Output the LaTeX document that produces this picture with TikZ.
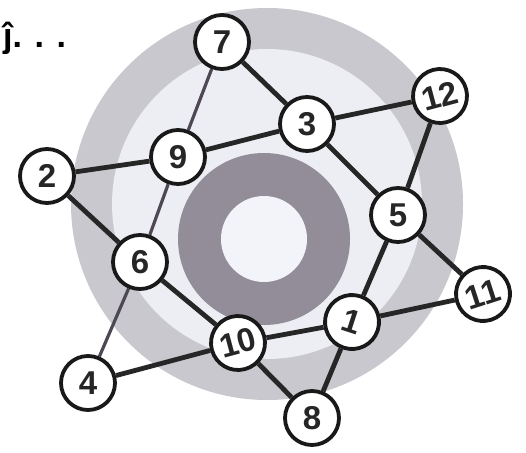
\documentclass[tikz,border=0pt]{standalone}
\usepackage{fontspec}
\setmainfont{Liberation Sans}
\definecolor{ringlight}{RGB}{200,200,206}
\definecolor{inside}{RGB}{236,238,243}
\definecolor{ringdark}{RGB}{146,141,153}
\definecolor{core}{RGB}{242,244,249}
\definecolor{thinline}{RGB}{78,72,84}
\pgfdeclarelayer{bg}
\pgfdeclarelayer{edgelayer}
\pgfsetlayers{bg,edgelayer,main}
\begin{document}
\begin{tikzpicture}[x=1pt,y=-1pt,
  numnode/.style={circle,draw=black!90,line width=3.8pt,fill=white,minimum size=54pt,inner sep=0pt,font=\fontsize{33}{33}\selectfont\bfseries,text=black!85},
  thickedge/.style={line width=4.8pt,draw=black!85},
  thinedge/.style={line width=3.2pt,draw=thinline}]
\useasboundingbox (0,0) rectangle (526,452);
\begin{pgfonlayer}{bg}
\fill[white] (0,0) rectangle (526,452);
\fill[ringlight] (267,204) circle (196);
\fill[inside] (267,204) circle (155);
\fill[ringdark] (264,239) circle (86);
\fill[core] (264,239) circle (43);
\end{pgfonlayer}
% title glyph
\node[anchor=west,font=\fontsize{34}{34}\selectfont\bfseries,inner sep=0pt] (ttl) at (3,38) {ĵ. . .};
% nodes
\node[numnode] (n7) at (222,42) {7};
\node[numnode] (n3) at (307,124) {3};
\node[numnode,rotate=15] (n12) at (440,96) {12};
\node[numnode] (n9) at (178,157) {9};
\node[numnode] (n2) at (47,176) {2};
\node[numnode] (n6) at (140,262) {6};
\node[numnode] (n5) at (398,215) {5};
\node[numnode,rotate=18] (n11) at (483,294) {11};
\node[numnode,rotate=-18] (n1) at (352,322) {1};
\node[numnode,rotate=15] (n10) at (238,343) {10};
\node[numnode] (n8) at (312,418) {8};
\node[numnode] (n4) at (88,383) {4};
% edges
\begin{pgfonlayer}{edgelayer}
\draw[thickedge] (n7) -- (n3);
\draw[thickedge] (n3) -- (n12);
\draw[thickedge] (n3) -- (n9);
\draw[thickedge] (n3) -- (n5);
\draw[thickedge] (n12) -- (n5);
\draw[thickedge] (n9) -- (n2);
\draw[thickedge] (n2) -- (n6);
\draw[thickedge] (n6) -- (n10);
\draw[thickedge] (n4) -- (n10);
\draw[thickedge] (n10) -- (n1);
\draw[thickedge] (n10) -- (n8);
\draw[thickedge] (n1) -- (n8);
\draw[thickedge] (n1) -- (n5);
\draw[thickedge] (n1) -- (n11);
\draw[thickedge] (n5) -- (n11);
\draw[thinedge] (n7) -- (n9);
\draw[thinedge] (n9) -- (n6);
\draw[thinedge] (n6) -- (n4);
\end{pgfonlayer}
\end{tikzpicture}
\end{document}
